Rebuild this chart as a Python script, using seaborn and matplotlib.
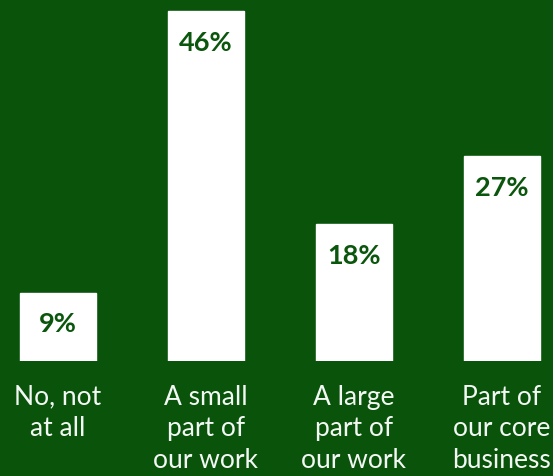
import matplotlib
matplotlib.use("Agg")
import matplotlib.pyplot as plt
import seaborn as sns
import pandas as pd

categories = ["No, not\nat all", "A small\npart of\nour work", "A large\npart of\nour work", "Part of\nour core\nbusiness"]
values = [9, 46, 18, 27]

BG = "#09530b"
TXT_GREEN = "#0b560d"

sns.set_theme(style="white")
plt.rcParams["font.family"] = ["Lato", "DejaVu Sans"]

df = pd.DataFrame({"cat": categories, "val": values})

fig = plt.figure(figsize=(5.53, 4.76), dpi=100, facecolor=BG)
ax = fig.add_axes([0, 0.2416, 1, 0.7584])
ax.set_facecolor(BG)

sns.barplot(data=df, x="cat", y="val", color="white", saturation=1, width=0.514, ax=ax)

for i, v in enumerate(values):
    ax.annotate(f"{v}%", (i, v), xytext=(0, -23), textcoords="offset points",
                ha="center", va="center", fontsize=19.5, fontweight="bold", color=TXT_GREEN)

ax.set_xlim(-58 / 148, (553 - 58) / 148)
ax.set_ylim(0, 46 * 361 / 350)
ax.set_xlabel("")
ax.set_ylabel("")
ax.set_yticks([])
for s in ax.spines.values():
    s.set_visible(False)
ax.tick_params(axis="x", length=0, pad=17, labelsize=19, labelcolor="#f4f8f4")
for lbl in ax.get_xticklabels():
    lbl.set_linespacing(1.33)

fig.savefig("out.png", dpi=100, facecolor=BG)
